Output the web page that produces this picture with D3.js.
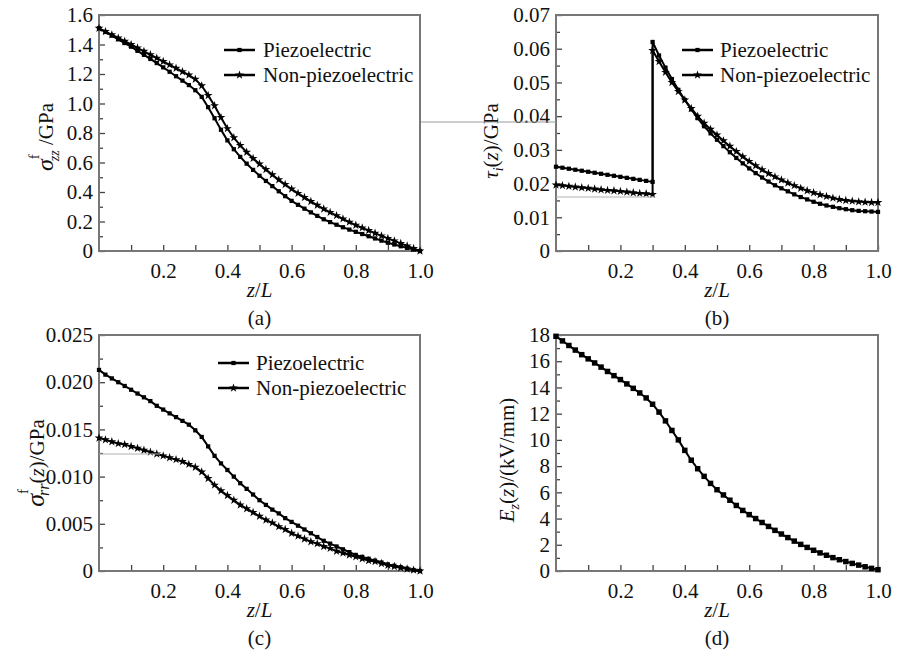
<!DOCTYPE html>
<html><head><meta charset="utf-8">
<script src="https://cdn.jsdelivr.net/npm/d3@7"></script>
</head>
<body style="margin:0">
<svg id="s" width="899" height="653" style="font-family:'Liberation Serif','Times New Roman',serif"></svg>
<script>
// ---------------- DATA ----------------
const zGrid = [0,0.02,0.04,0.06,0.08,0.10,0.12,0.14,0.16,0.18,0.20,0.22,0.24,0.26,0.28,0.30,
  0.32,0.34,0.36,0.38,0.40,0.42,0.44,0.46,0.48,0.50,0.52,0.54,0.56,0.58,0.60,0.62,0.64,0.66,0.68,
  0.70,0.72,0.74,0.76,0.78,0.80,0.82,0.84,0.86,0.88,0.90,0.92,0.94,0.96,0.98,1.00];
const seriesNames = ["Piezoelectric", "Non-piezoelectric"];

// (a) sigma_zz^f / GPa
const sigmaZZPiezo = [1.51,1.485,1.46,1.435,1.41,1.385,1.357,1.33,1.302,1.274,1.245,1.215,1.185,1.155,1.125,1.09,
  1.045,0.975,0.9,0.822,0.75,0.69,0.638,0.592,0.55,0.51,0.475,0.44,0.405,0.372,0.34,0.313,0.287,0.262,0.238,
  0.215,0.196,0.178,0.161,0.145,0.13,0.115,0.10,0.085,0.07,0.056,0.044,0.032,0.021,0.01,0.0];
const sigmaZZNonPiezo = [1.51,1.488,1.466,1.444,1.422,1.40,1.377,1.354,1.331,1.308,1.285,1.262,1.239,1.216,1.193,1.165,
  1.12,1.055,0.985,0.905,0.83,0.768,0.716,0.67,0.628,0.59,0.553,0.517,0.483,0.451,0.42,0.391,0.363,0.336,0.31,
  0.285,0.262,0.24,0.218,0.196,0.175,0.157,0.139,0.121,0.103,0.086,0.069,0.052,0.035,0.017,0.0];

// (b) tau_i(z) / GPa  (jump at z/L = 0.3)
const tauPiezoLeft = [0.0250,0.0247,0.0244,0.0241,0.0238,0.0235,0.0232,0.0229,0.0226,0.0223,0.0220,0.0217,0.0214,0.0211,0.0208,0.0205];
const tauPiezoRight = [0.0620,0.0580,0.0544,0.0510,0.0478,0.0448,0.0420,0.0394,0.0370,0.0349,0.0330,0.0311,0.0293,0.0276,0.0260,
  0.0245,0.0231,0.0218,0.0206,0.0195,0.0186,0.0177,0.0168,0.0160,0.0153,0.0146,0.0140,0.0135,0.0131,0.0127,0.0124,0.0121,0.0119,0.0118,0.0117,0.0116];
const tauNonPiezoLeft = [0.0196,0.0194,0.0192,0.0190,0.0188,0.0186,0.0184,0.0182,0.0180,0.0179,0.0177,0.0175,0.0173,0.0171,0.0170,0.0168];
const tauNonPiezoRight = [0.0595,0.0562,0.0530,0.0500,0.0473,0.0448,0.0423,0.0400,0.0379,0.0361,0.0344,0.0327,0.0311,0.0295,0.0280,
  0.0266,0.0253,0.0241,0.0230,0.0220,0.0211,0.0202,0.0194,0.0186,0.0179,0.0173,0.0167,0.0162,0.0157,0.0153,0.0150,0.0148,0.0146,0.0145,0.0144,0.0144];

// (c) sigma_rr^f(z) / GPa
const sigmaRRPiezo = [0.0213,0.0208,0.0204,0.0200,0.0196,0.0192,0.0188,0.0184,0.0180,0.0175,0.0171,0.0167,0.0163,0.0159,0.0155,0.0149,
  0.0142,0.0132,0.0122,0.0114,0.0107,0.0100,0.0093,0.0087,0.0081,0.0075,0.0070,0.0065,0.0061,0.0056,0.0052,0.0048,0.0044,0.0040,0.0036,
  0.0032,0.0029,0.0026,0.0023,0.0020,0.0017,0.0015,0.0013,0.0011,0.0009,0.0007,0.00055,0.0004,0.00025,0.0001,0.0];
const sigmaRRNonPiezo = [0.0141,0.0139,0.0137,0.0135,0.0134,0.0132,0.0130,0.0128,0.0126,0.0124,0.0122,0.0120,0.0118,0.0116,0.0113,0.0110,
  0.0105,0.0098,0.0091,0.0085,0.0080,0.0075,0.0070,0.0066,0.0062,0.0058,0.0054,0.0051,0.0047,0.0044,0.0040,0.0037,0.0034,0.0031,0.0029,
  0.0026,0.0024,0.0021,0.0019,0.0017,0.0015,0.0013,0.0011,0.0010,0.0008,0.0006,0.00048,0.00035,0.00022,0.0001,0.0];

// (d) E_z(z) / (kV/mm)
const electricField = [17.9,17.55,17.2,16.85,16.5,16.18,15.87,15.55,15.22,14.9,14.6,14.27,13.93,13.58,13.2,12.72,
  12.12,11.45,10.72,10.0,9.2,8.45,7.8,7.22,6.68,6.2,5.8,5.4,5.0,4.62,4.3,4.0,3.7,3.4,3.1,
  2.82,2.55,2.28,2.03,1.8,1.58,1.38,1.2,1.02,0.86,0.72,0.58,0.45,0.32,0.2,0.1];

// ticks
const xTicks = [0.1,0.2,0.3,0.4,0.5,0.6,0.7,0.8,0.9,1.0];
const xTickLabels = ["","0.2","","0.4","","0.6","","0.8","","1.0"];
const yTicksA = [0,0.1,0.2,0.3,0.4,0.5,0.6,0.7,0.8,0.9,1.0,1.1,1.2,1.3,1.4,1.5,1.6];
const yLabelsA = ["0","","0.2","","0.4","","0.6","","0.8","","1.0","","1.2","","1.4","","1.6"];
const yTicksB = [0,0.005,0.01,0.015,0.02,0.025,0.03,0.035,0.04,0.045,0.05,0.055,0.06,0.065,0.07];
const yLabelsB = ["0","","0.01","","0.02","","0.03","","0.04","","0.05","","0.06","","0.07"];
const yTicksC = [0,0.0025,0.005,0.0075,0.01,0.0125,0.015,0.0175,0.02,0.0225,0.025];
const yLabelsC = ["0","","0.005","","0.010","","0.015","","0.020","","0.025"];
const yTicksD = [0,1,2,3,4,5,6,7,8,9,10,11,12,13,14,15,16,17,18];
const yLabelsD = ["0","","2","","4","","6","","8","","10","","12","","14","","16","","18"];
const panelCaptions = ["(a)","(b)","(c)","(d)"];

// ---------------- DRAW ----------------
const svg = d3.select("#s");
const FONT = 21;
const FAM = "Liberation Serif";
function serif(sel){ return sel.style("font-family", FAM); }

function zip(xs, ys){ return ys.map((v,i)=>[xs[i], v]); }

const zLeft = zGrid.slice(0,16), zRight = zGrid.slice(15);

const panels = [
  {left:99, top:15, w:321, h:236, ymax:1.6, yt:yTicksA, yl:yLabelsA, cap:panelCaptions[0],
   series:[{pts:zip(zGrid,sigmaZZPiezo), sym:"sq"},{pts:zip(zGrid,sigmaZZNonPiezo), sym:"star"}],
   legend:{x:224, y:50, tx:263}},
  {left:556, top:15, w:322, h:236, ymax:0.07, yt:yTicksB, yl:yLabelsB, cap:panelCaptions[1],
   series:[{pts:zip(zLeft,tauPiezoLeft).concat(zip(zRight,tauPiezoRight)), sym:"sq"},
           {pts:zip(zLeft,tauNonPiezoLeft).concat(zip(zRight,tauNonPiezoRight)), sym:"star"}],
   legend:{x:682, y:50, tx:720}},
  {left:99, top:335, w:321, h:236, ymax:0.025, yt:yTicksC, yl:yLabelsC, cap:panelCaptions[2],
   series:[{pts:zip(zGrid,sigmaRRPiezo), sym:"sq"},{pts:zip(zGrid,sigmaRRNonPiezo), sym:"star"}],
   legend:{x:218, y:363, tx:256}},
  {left:556, top:335, w:322, h:236, ymax:18, yt:yTicksD, yl:yLabelsD, cap:panelCaptions[3],
   series:[{pts:zip(zGrid,electricField), sym:"bigsq"}], legend:null}
];

const symSq = d3.symbol().type(d3.symbolSquare).size(18);
const symBigSq = d3.symbol().type(d3.symbolSquare).size(30);
const symStar = d3.symbol().type(d3.symbolStar).size(24);
function symPath(s){ return s==="sq" ? symSq() : s==="bigsq" ? symBigSq() : symStar(); }

panels.forEach(p => {
  const g = svg.append("g").attr("transform", `translate(${p.left},${p.top})`);
  const x = d3.scaleLinear().domain([0,1]).range([0,p.w]);
  const y = d3.scaleLinear().domain([0,p.ymax]).range([p.h,0]);

  const xa = g.append("g").attr("transform",`translate(0,${p.h})`)
    .call(d3.axisBottom(x).tickValues(xTicks).tickSizeInner(-6).tickSizeOuter(0).tickPadding(14)
      .tickFormat((d,i)=>xTickLabels[i]));
  xa.attr("font-family", null).attr("font-size", null);
  xa.select(".domain").remove();
  xa.selectAll("line").attr("stroke","#444").attr("stroke-width",1.3);
  serif(xa.selectAll("text")).attr("font-size",FONT).attr("fill","#111").attr("dy","0.71em").attr("y",12);

  const ya = g.append("g")
    .call(d3.axisLeft(y).tickValues(p.yt).tickSizeInner(-5).tickSizeOuter(0).tickPadding(7)
      .tickFormat((d,i)=>p.yl[i]));
  ya.attr("font-family", null).attr("font-size", null);
  ya.select(".domain").remove();
  ya.selectAll("line").attr("stroke","#444").attr("stroke-width",1.3)
    .attr("x2",(d,i)=> p.yl[i]==="" ? 4 : 6);
  serif(ya.selectAll("text")).attr("font-size",FONT).attr("fill","#111").attr("x",-6);

  g.append("rect").attr("x",0).attr("y",0).attr("width",p.w).attr("height",p.h)
    .attr("fill","none").attr("stroke","#777").attr("stroke-width",2);

  const line = d3.line().x(d=>x(d[0])).y(d=>y(d[1]));
  p.series.forEach(s => {
    g.append("path").datum(s.pts).attr("d",line).attr("fill","none")
      .attr("stroke","#000").attr("stroke-width",2);
    g.selectAll(null).data(s.pts).enter().append("path")
      .attr("d",symPath(s.sym))
      .attr("transform",d=>`translate(${x(d[0])},${y(d[1])})`)
      .attr("fill","#000");
  });

  if (p.legend) {
    const L = p.legend;
    [["sq",0],["star",1]].forEach(([sym,i]) => {
      const yy = L.y + i*25;
      svg.append("line").attr("x1",L.x).attr("x2",L.x+31).attr("y1",yy).attr("y2",yy)
        .attr("stroke","#000").attr("stroke-width",2.5);
      svg.append("path").attr("d",symPath(sym)).attr("transform",`translate(${L.x+15.5},${yy})`).attr("fill","#000");
      serif(svg.append("text")).attr("x",L.tx).attr("y",yy+7).attr("fill","#111")
        .attr("font-size",FONT).text(seriesNames[i]);
    });
  }

  const xl = serif(svg.append("text")).attr("x",p.left+p.w/2).attr("y",p.top+p.h+46).attr("fill","#111")
    .attr("text-anchor","middle").attr("font-size",FONT).attr("font-style","italic");
  xl.append("tspan").text("z");
  xl.append("tspan").attr("font-style","normal").text("/");
  xl.append("tspan").text("L");

  serif(svg.append("text")).attr("x",p.left+p.w/2).attr("y",p.top+p.h+74).attr("fill","#111")
    .attr("text-anchor","middle").attr("font-size",FONT).text(p.cap);
});

function ylab(cx, cy, build){
  const t = serif(svg.append("text")).attr("transform",`translate(${cx},${cy}) rotate(-90)`).attr("fill","#111")
    .attr("text-anchor","middle").attr("font-size",21);
  build(t);
}
ylab(53,137,t=>{
  t.append("tspan").attr("font-style","italic").attr("font-size",24).text("σ");
  t.append("tspan").attr("font-size",15).attr("dy",-14).text("f");
  t.append("tspan").attr("font-size",14).attr("font-style","italic").attr("dx",-7).attr("dy",20).text("zz");
  t.append("tspan").attr("dy",-6).text(" /GPa");
});
ylab(498,141,t=>{
  t.append("tspan").attr("font-style","italic").text("τ");
  t.append("tspan").attr("font-size",14).attr("font-style","italic").attr("dy",5).text("i");
  t.append("tspan").attr("dy",-5).text("(");
  t.append("tspan").attr("font-style","italic").text("z");
  t.append("tspan").text(")/GPa");
});
ylab(44,463,t=>{
  t.append("tspan").attr("font-style","italic").attr("font-size",26).text("σ");
  t.append("tspan").attr("font-size",15).attr("dy",-16).text("f");
  t.append("tspan").attr("font-size",16).attr("font-style","italic").attr("dx",-7).attr("dy",21).text("rr");
  t.append("tspan").attr("dy",-5).text("(");
  t.append("tspan").attr("font-style","italic").text("z");
  t.append("tspan").text(")/GPa");
});
ylab(514,460,t=>{
  t.append("tspan").attr("font-style","italic").text("E");
  t.append("tspan").attr("font-size",14).attr("font-style","italic").attr("dy",5).text("z");
  t.append("tspan").attr("dy",-5).text("(");
  t.append("tspan").attr("font-style","italic").text("z");
  t.append("tspan").text(")/(kV/mm)");
});

svg.append("line").attr("x1",421).attr("x2",556).attr("y1",122).attr("y2",122).attr("stroke","#9a9a9a").attr("stroke-width",1);
svg.append("line").attr("x1",556).attr("x2",655).attr("y1",197).attr("y2",197).attr("stroke","#b0b0b0").attr("stroke-width",1);
svg.append("line").attr("x1",99).attr("x2",160).attr("y1",454).attr("y2",454).attr("stroke","#b0b0b0").attr("stroke-width",1);
</script>
</body></html>
